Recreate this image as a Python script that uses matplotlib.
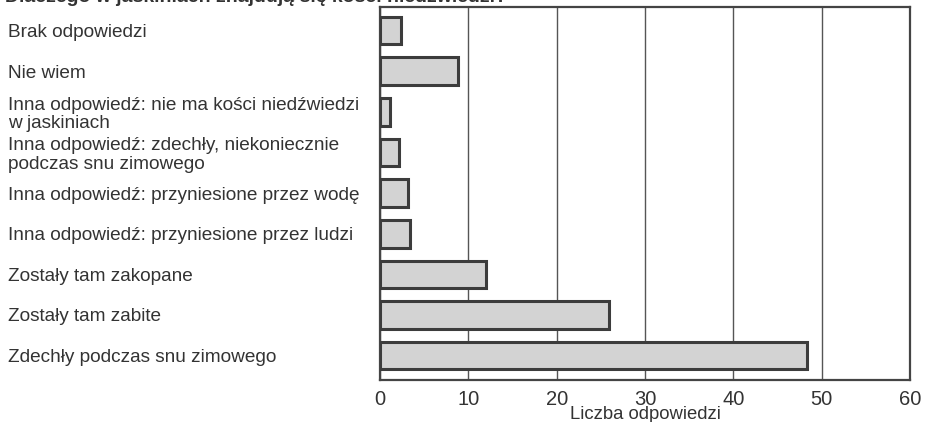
import matplotlib
matplotlib.use("Agg")
import matplotlib.pyplot as plt

plt.rcParams['font.family'] = ['Liberation Sans', 'DejaVu Sans']

# ── Dane ───────────────────────────────────────────────────────────────────
TITLE = "Dlaczego w jaskiniach znajdują się kości niedźwiedzi?"
labels = [
    "Brak odpowiedzi",
    "Nie wiem",
    "Inna odpowiedź: nie ma kości niedźwiedzi\nw jaskiniach",
    "Inna odpowiedź: zdechły, niekoniecznie\npodczas snu zimowego",
    "Inna odpowiedź: przyniesione przez wodę",
    "Inna odpowiedź: przyniesione przez ludzi",
    "Zostały tam zakopane",
    "Zostały tam zabite",
    "Zdechły podczas snu zimowego",
]
values = [2.4, 8.8, 1.1, 2.2, 3.2, 3.4, 12.0, 25.9, 48.3]
xticks = [0, 10, 20, 30, 40, 50, 60]
XLABEL = "Liczba odpowiedzi"

DPI = 100
TXT = '#333333'
fig = plt.figure(figsize=(9.30, 4.22), dpi=DPI)
ax = fig.add_axes([380 / 930, 1 - 380 / 422, 530 / 930, 373 / 422])

ypos = list(range(len(labels)))
ax.barh(ypos, values, height=0.68, color='#d3d3d3',
        edgecolor='#3c3c3c', linewidth=2.2, zorder=3)

ax.set_xlim(0, 60)
ax.set_ylim(8.6, -0.58)
ax.set_xticks(xticks)
ax.set_xticklabels([str(t) for t in xticks], fontsize=14.5, color=TXT)
ax.tick_params(axis='x', length=0, pad=7)
ax.set_xlabel(XLABEL, fontsize=13.3, color=TXT, labelpad=-2)

ax.set_yticks(ypos)
ax.set_yticklabels(labels, fontsize=13.7, color=TXT, ha='left',
                   linespacing=1.1)
ax.tick_params(axis='y', length=0, pad=372 * 72 / DPI)

ax.grid(axis='x', color='#555555', linewidth=1.0, zorder=1)
ax.grid(axis='y', visible=False)
for s in ax.spines.values():
    s.set_color('#444444')
    s.set_linewidth(1.6)

fig.text(5 / 930, 1 - 2 / 422, TITLE, fontsize=14, fontweight='bold',
         color=TXT, ha='left', va='baseline')

fig.savefig("out.png", dpi=DPI)
